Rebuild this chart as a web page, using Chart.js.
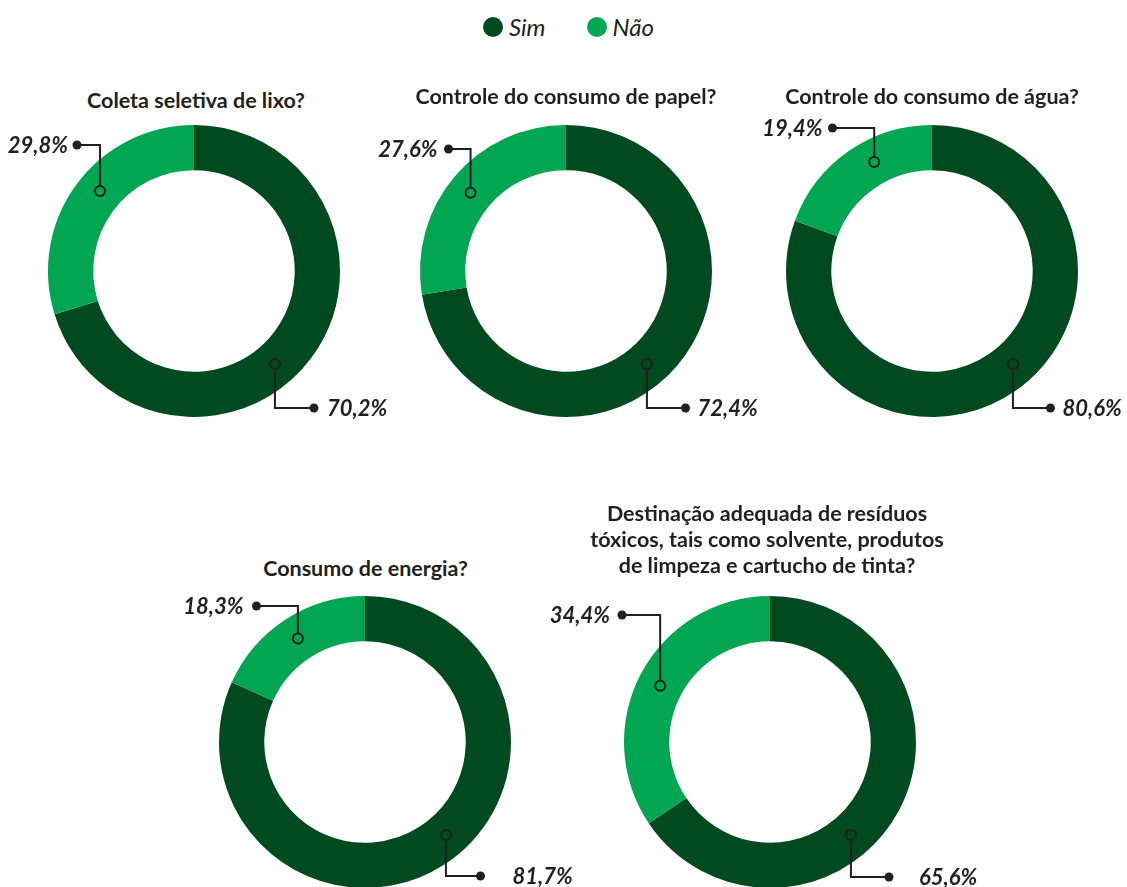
<!DOCTYPE html>
<html lang="pt">
<head>
<meta charset="utf-8">
<script src="https://cdn.jsdelivr.net/npm/chart.js@4/dist/chart.umd.min.js"></script>
<style>
  html, body { margin: 0; padding: 0; background: #ffffff; overflow: hidden; }
  body { width: 1127px; height: 887px; position: relative; font-family: Lato, sans-serif; color: #231f20; }
  .legend { position: absolute; top: 12px; left: 483px; display: flex; align-items: center; font-style: italic; font-size: 24px; }
  .legend span.dot { display: inline-block; width: 20px; height: 20px; border-radius: 50%; margin-right: 6px; }
  .legend .item { display: flex; align-items: center; margin-right: 41px; }
  .title { position: absolute; transform: translateX(-50%); font-weight: bold; font-size: 21.5px; text-align: center; line-height: 26px; white-space: nowrap; }
</style>
</head>
<body>

<div class="legend" id="legend"></div>

<script>
// Dados
const seriesLabels = ['Sim', 'Não'];
const titles = [
    'Coleta seletiva de lixo?',
    'Controle do consumo de papel?',
    'Controle do consumo de água?',
    'Consumo de energia?',
    'Destinação adequada de resíduos<br>tóxicos, tais como solvente, produtos<br>de limpeza e cartucho de tinta?'
];
const simValues = [70.2, 72.4, 80.6, 81.7, 65.6];
const naoValues = [29.8, 27.6, 19.4, 18.3, 34.4];

const colors = ['#004a1f', '#00a651'];
const ink = '#231f20';

// Position de chaque anneau (centre) et du titre
const layout = [
    { cx: 194, cy: 271, tx: 196, ty: 87,
      sim: { dy: 137, dx: 120, gap: 13 }, nao: { dy: -126, dx: -117, gap: 9, nudge: 4 } },
    { cx: 565.5, cy: 271, tx: 566, ty: 83,
      sim: { dy: 137, dx: 119.5, gap: 12 }, nao: { dy: -122, dx: -117.5, gap: 11, nudge: -1 } },
    { cx: 931.5, cy: 271, tx: 932, ty: 83,
      sim: { dy: 137, dx: 118.5, gap: 12 }, nao: { dy: -143, dx: -99.5, gap: 10, nudge: 7 } },
    { cx: 364.5, cy: 742, tx: 365.5, ty: 555,
      sim: { dy: 134, dx: 115.5, gap: 32 }, nao: { dy: -136, dx: -108.5, gap: 13, nudge: 0 } },
    { cx: 770, cy: 742, tx: 767, ty: 500,
      sim: { dy: 135, dx: 119, gap: 30 }, nao: { dy: -127, dx: -148, gap: 12, nudge: -1 } }
];

const SIM_ANGLE = 139; // degrés depuis le haut, sens horaire

// Légende HTML
const legendEl = document.getElementById('legend');
seriesLabels.forEach((lab, i) => {
    const item = document.createElement('div');
    item.className = 'item';
    item.innerHTML = '<span class="dot" style="background:' + colors[i] + '"></span>' + lab;
    legendEl.appendChild(item);
});

// Plugin pour les étiquettes avec lignes de rappel
const leaderLabels = {
    id: 'leaderLabels',
    afterDatasetsDraw(chart, args, opts) {
        const ctx = chart.ctx;
        const meta = chart.getDatasetMeta(0);
        const values = chart.data.datasets[0].data;
        ctx.save();
        ctx.strokeStyle = ink;
        ctx.fillStyle = ink;
        ctx.lineWidth = 2;
        meta.data.forEach((arc, i) => {
            const p = arc.getProps(['x', 'y', 'startAngle', 'endAngle', 'innerRadius', 'outerRadius'], true);
            const cfg = i === 0 ? opts.sim : opts.nao;
            const r = (p.innerRadius + p.outerRadius) / 2;
            let a;
            if (i === 0) {
                a = -Math.PI / 2 + SIM_ANGLE * Math.PI / 180;
            } else {
                a = (p.startAngle + p.endAngle) / 2 + (cfg.nudge || 0) * Math.PI / 180;
            }
            const ax = p.x + r * Math.cos(a);
            const ay = p.y + r * Math.sin(a);
            const ly = p.y + cfg.dy;
            const dotX = p.x + cfg.dx;
            const dir = ly > ay ? 1 : -1;

            ctx.beginPath();
            ctx.moveTo(ax, ay + dir * 5);
            ctx.lineTo(ax, ly);
            ctx.lineTo(dotX, ly);
            ctx.stroke();

            ctx.beginPath();
            ctx.arc(ax, ay, 5, 0, Math.PI * 2);
            ctx.stroke();

            ctx.beginPath();
            ctx.arc(dotX, ly, 4.5, 0, Math.PI * 2);
            ctx.fill();

            const txt = values[i].toFixed(1).replace('.', ',') + '%';
            ctx.font = 'italic bold 22px Lato';
            ctx.textBaseline = 'middle';
            if (dotX < p.x) {
                ctx.textAlign = 'right';
                ctx.fillText(txt, dotX - cfg.gap, ly + 1);
            } else {
                ctx.textAlign = 'left';
                ctx.fillText(txt, dotX + cfg.gap, ly + 1);
            }
        });
        ctx.restore();
    }
};

const W = 460, H = 340;

layout.forEach((L, k) => {
    // Titre
    const t = document.createElement('div');
    t.className = 'title';
    t.style.left = L.tx + 'px';
    t.style.top = L.ty + 'px';
    t.innerHTML = titles[k];
    document.body.appendChild(t);

    // Canvas
    const wrap = document.createElement('div');
    wrap.style.position = 'absolute';
    wrap.style.left = (L.cx - W / 2) + 'px';
    wrap.style.top = (L.cy - H / 2) + 'px';
    wrap.style.width = W + 'px';
    wrap.style.height = H + 'px';
    const cv = document.createElement('canvas');
    wrap.appendChild(cv);
    document.body.appendChild(wrap);

    new Chart(cv.getContext('2d'), {
        type: 'doughnut',
        data: {
            labels: seriesLabels,
            datasets: [{
                data: [simValues[k], naoValues[k]],
                backgroundColor: colors,
                borderWidth: 0,
                hoverOffset: 0
            }]
        },
        options: {
            responsive: true,
            maintainAspectRatio: false,
            animation: false,
            events: [],
            cutout: '69%',
            layout: { padding: { left: (W - 292) / 2, right: (W - 292) / 2, top: (H - 292) / 2, bottom: (H - 292) / 2 } },
            plugins: {
                legend: { display: false },
                tooltip: { enabled: false },
                leaderLabels: { sim: L.sim, nao: L.nao }
            }
        },
        plugins: [leaderLabels]
    });
});
</script>
</body>
</html>
